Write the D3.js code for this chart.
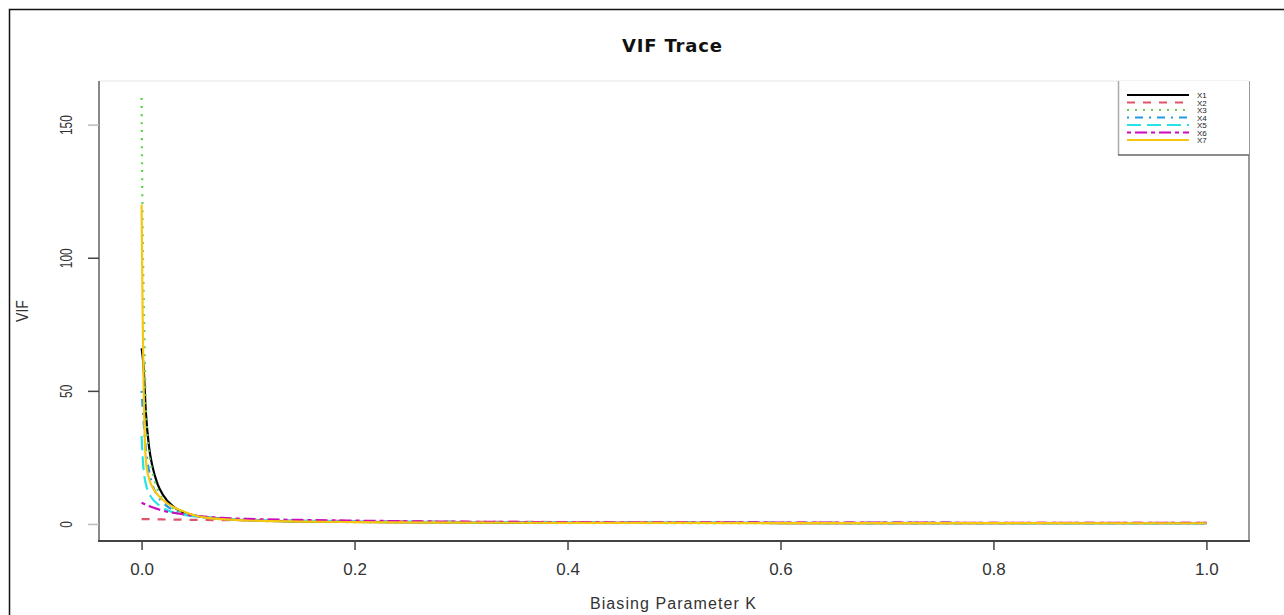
<!DOCTYPE html>
<html>
<head>
<meta charset="utf-8">
<script src="https://cdn.jsdelivr.net/npm/d3@7"></script>
<style>
  body { margin: 0; background: #fff; }
  svg { display: block; }
  text { font-family: "Liberation Sans", Arial, sans-serif; fill: #333; }
</style>
</head>
<body>
<div id="chart"></div>
<script>
// biasing parameter grid
const kValues = [0, 0.001, 0.002, 0.004, 0.007, 0.01, 0.015, 0.02, 0.03, 0.04, 0.055, 0.075, 0.1, 0.15, 0.2, 0.3, 0.4, 0.6, 0.8, 1.0];

// VIF per regressor
const vifX1 = [66, 63, 58, 42, 29, 22, 15, 11, 6.4, 4.3, 2.8, 1.9, 1.4, 0.95, 0.75, 0.55, 0.45, 0.35, 0.3, 0.26];
const vifX2 = [1.8, 1.8, 1.8, 1.8, 1.8, 1.75, 1.75, 1.7, 1.65, 1.6, 1.5, 1.45, 1.35, 1.2, 1.1, 0.85, 0.72, 0.55, 0.45, 0.38];
const vifX3 = [160, 110, 85, 45, 27, 20, 13, 9.5, 5.8, 4.2, 2.7, 1.8, 1.3, 0.9, 0.7, 0.5, 0.4, 0.32, 0.28, 0.25];
const vifX4 = [50, 44, 38, 28, 20, 15, 10.5, 8, 5.2, 3.9, 2.8, 2.0, 1.5, 1.05, 0.82, 0.6, 0.48, 0.37, 0.31, 0.27];
const vifX5 = [33, 25, 20, 15, 11.5, 9.5, 7.5, 6, 4.3, 3.4, 2.6, 2.0, 1.6, 1.2, 1.0, 0.75, 0.6, 0.45, 0.36, 0.3];
const vifX6 = [8, 7.8, 7.6, 7.2, 6.7, 6.3, 5.6, 5.0, 4.2, 3.6, 2.9, 2.3, 1.9, 1.5, 1.25, 0.85, 0.7, 0.55, 0.45, 0.38];
const vifX7 = [120, 78, 50, 24, 17, 14, 11, 9, 6.3, 4.6, 2.7, 1.8, 1.3, 0.9, 0.7, 0.5, 0.42, 0.34, 0.3, 0.27];

const seriesNames = ["X1", "X2", "X3", "X4", "X5", "X6", "X7"];
const seriesValues = [vifX1, vifX2, vifX3, vifX4, vifX5, vifX6, vifX7];
const xTicks = [0, 0.2, 0.4, 0.6, 0.8, 1.0];
const yTicks = [0, 50, 100, 150];

const colors = ["#000000", "#DF536B", "#61D04F", "#2297E6", "#28E2E5", "#CD0BBC", "#F5C710"];
const dashes = [null, "8,8", "2,6", "2,6,8,6", "14,6", "4,4,12,4", null];

const W = 1284, H = 615;
const plotLeft = 99, plotRight = 1249, plotTop = 81, plotBottom = 541;

const svg = d3.select("#chart").append("svg")
  .attr("width", W)
  .attr("height", H);

// outer frame
svg.append("path")
  .attr("d", `M9.5,${H} L9.5,9.5 L${W},9.5`)
  .attr("fill", "none")
  .attr("stroke", "#111")
  .attr("stroke-width", 1.5);

const x = d3.scaleLinear().domain([-0.04, 1.04]).range([plotLeft, plotRight]);
const y = d3.scaleLinear().domain([-6.4, 166.4]).range([plotBottom, plotTop]);

// lines
const line = d3.line()
  .x((d, i) => x(kValues[i]))
  .y(d => y(d))
  .curve(d3.curveMonotoneX);

svg.append("g").selectAll("path")
  .data(seriesValues)
  .enter()
  .append("path")
  .attr("d", line)
  .attr("fill", "none")
  .attr("stroke", (d, i) => colors[i])
  .attr("stroke-width", 2.2)
  .attr("stroke-dasharray", (d, i) => dashes[i]);

// plot box
svg.append("line").attr("x1", plotLeft).attr("x2", plotRight).attr("y1", plotTop).attr("y2", plotTop)
  .attr("stroke", "#eee").attr("stroke-width", 1.5);
svg.append("line").attr("x1", plotRight).attr("x2", plotRight).attr("y1", plotTop).attr("y2", plotBottom)
  .attr("stroke", "#999").attr("stroke-width", 2);
svg.append("line").attr("x1", plotLeft).attr("x2", plotLeft).attr("y1", plotTop).attr("y2", plotBottom)
  .attr("stroke", "#888").attr("stroke-width", 2);
svg.append("line").attr("x1", plotLeft - 1).attr("x2", plotRight + 1).attr("y1", plotBottom).attr("y2", plotBottom)
  .attr("stroke", "#444").attr("stroke-width", 2);

// x axis
const xAxis = svg.append("g")
  .attr("transform", `translate(0,${plotBottom})`)
  .call(d3.axisBottom(x).tickValues(xTicks).tickFormat(d3.format(".1f")).tickSize(9).tickPadding(13));
xAxis.select(".domain").remove();
xAxis.selectAll(".tick line").attr("stroke", "#444").attr("stroke-width", 1.5);
xAxis.selectAll(".tick text")
  .attr("font-family", "Liberation Sans, Arial, sans-serif")
  .attr("font-size", 17)
  .attr("fill", "#333");

// y axis
const yAxis = svg.append("g")
  .attr("transform", `translate(${plotLeft},0)`)
  .call(d3.axisLeft(y).tickValues(yTicks).tickSize(11).tickFormat(d => d));
yAxis.select(".domain").remove();
yAxis.selectAll(".tick line")
  .attr("stroke", d => (d === 50 || d === 100) ? "#444" : "#bbb")
  .attr("stroke-width", 1.5);
yAxis.selectAll(".tick text")
  .attr("x", null).attr("dy", null)
  .attr("text-anchor", "middle")
  .attr("transform", "translate(-27,0) rotate(-90) scale(0.7,1)")
  .attr("font-family", "Liberation Sans, Arial, sans-serif")
  .attr("font-size", 17)
  .attr("fill", "#333");

// title and axis titles
svg.append("text")
  .attr("x", 672).attr("y", 52)
  .attr("text-anchor", "middle")
  .style("font-family", "DejaVu Sans, Verdana, sans-serif")
  .style("font-weight", "bold")
  .style("fill", "#111")
  .attr("font-size", 18)
  .attr("textLength", 100)
  .text("VIF Trace");

svg.append("text")
  .attr("x", 673).attr("y", 609)
  .attr("text-anchor", "middle")
  .attr("font-size", 16)
  .attr("textLength", 166)
  .text("Biasing Parameter K");

svg.append("text")
  .attr("transform", "translate(28,311) rotate(-90) scale(0.88,1)")
  .attr("text-anchor", "middle")
  .attr("font-size", 16)
  .text("VIF");

// legend
const lg = svg.append("g");
lg.append("rect")
  .attr("x", 1118.5).attr("y", plotTop).attr("width", plotRight - 1118.5).attr("height", 74)
  .attr("fill", "#fff").attr("stroke", "none");
lg.append("line").attr("x1", 1118.5).attr("x2", 1118.5).attr("y1", plotTop).attr("y2", 155)
  .attr("stroke", "#aaa").attr("stroke-width", 1.5);
lg.append("line").attr("x1", 1118).attr("x2", plotRight).attr("y1", 155).attr("y2", 155)
  .attr("stroke", "#666").attr("stroke-width", 1.5);

const rowY = d3.scaleLinear().domain([0, 6]).range([95, 140]);
lg.selectAll("line.key")
  .data(seriesNames)
  .enter()
  .append("line")
  .attr("class", "key")
  .attr("x1", 1127).attr("x2", 1189)
  .attr("y1", (d, i) => rowY(i)).attr("y2", (d, i) => rowY(i))
  .attr("stroke", (d, i) => colors[i])
  .attr("stroke-width", 2)
  .attr("stroke-dasharray", (d, i) => dashes[i]);

lg.selectAll("text.key")
  .data(seriesNames)
  .enter()
  .append("text")
  .attr("class", "key")
  .attr("x", 1197)
  .attr("y", (d, i) => rowY(i) + 3)
  .attr("font-size", 8)
  .style("fill", "#222")
  .text(d => d);
</script>
</body>
</html>
